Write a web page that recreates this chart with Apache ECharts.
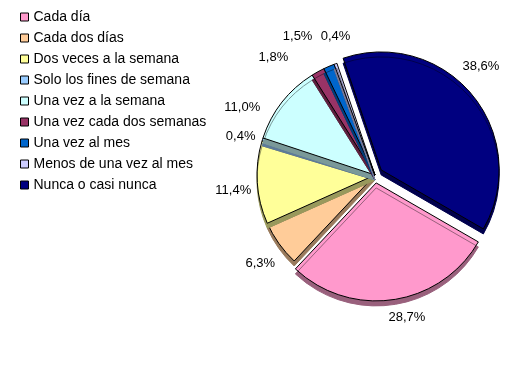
<!DOCTYPE html>
<html>
<head>
<meta charset="utf-8">
<script src="https://cdn.jsdelivr.net/npm/echarts@6/dist/echarts.min.js"></script>
<style>
html,body{margin:0;padding:0;background:#fff;}
#chart{width:530px;height:365px;}
</style>
</head>
<body>
<div id="chart"></div>
<script>
const categories = ['Cada día','Cada dos días','Dos veces a la semana','Solo los fines de semana','Una vez a la semana','Una vez cada dos semanas','Una vez al mes','Menos de una vez al mes','Nunca o casi nunca'];
const values = [28.7, 6.3, 11.4, 0.4, 11.0, 1.8, 1.5, 0.4, 38.6];
const exploded = ['Cada día','Nunca o casi nunca'];

// styling (not data)
const colors = ['#FF99CC','#FFCC99','#FFFF99','#99CCFF','#CCFFFF','#993366','#0066CC','#CCCCFF','#000080'];
const sideColors = ['#99607C','#997A5C','#99995C','#5C7A99','#7A9999','#5C1F3D','#003D7A','#7A7A99','#00004D'];
// label nudges mimicking the original's collision handling (dx, dy in px)
const labelNudge = [[10,-6],[1,6],[0,6],[1,4],[-21,20],[-33,7],[-22,-8],[8,-5],[-10,-13]];

const chart = echarts.init(document.getElementById('chart'));
const data = categories.map((name, i) => ({
  name: name,
  value: values[i],
  selected: exploded.indexOf(name) >= 0,
  itemStyle: {color: colors[i], shadowColor: sideColors[i], shadowOffsetX: 0, shadowOffsetY: 5, shadowBlur: 0}
}));

chart.setOption({
  backgroundColor: '#fff',
  animation: false,
  textStyle: {fontFamily: 'Liberation Sans, Arial, sans-serif'},
  legend: {
    orient: 'vertical',
    left: 15,
    top: 5,
    itemWidth: 8,
    itemHeight: 8,
    itemGap: 7,
    icon: 'rect',
    selectedMode: false,
    data: categories,
    itemStyle: {borderColor: '#000', borderWidth: 1, shadowColor: 'transparent', shadowOffsetY: 0, shadowBlur: 0},
    textStyle: {fontSize: 14, lineHeight: 14, color: '#000', fontFamily: 'Liberation Sans, Arial, sans-serif'}
  },
  series: [{
    type: 'pie',
    center: [375, 175],
    radius: 118,
    startAngle: -30,
    clockwise: true,
    selectedMode: 'multiple',
    selectedOffset: 8,
    avoidLabelOverlap: false,
    silent: true,
    itemStyle: {borderColor: '#000', borderWidth: 1},
    emphasis: {disabled: true},
    label: {
      show: true,
      position: 'outside',
      fontSize: 13,
      color: '#000',
      distanceToLabelLine: 0,
      fontFamily: 'Liberation Sans, Arial, sans-serif',
      formatter: p => p.value.toFixed(1).replace('.', ',') + '%'
    },
    labelLine: {show: false, length: 24, length2: 0},
    labelLayout: function (params) {
      const n = labelNudge[params.dataIndex] || [0, 0];
      return {align: 'center', verticalAlign: 'middle', dx: n[0], dy: n[1]};
    },
    data: data
  }]
});
</script>
</body>
</html>
